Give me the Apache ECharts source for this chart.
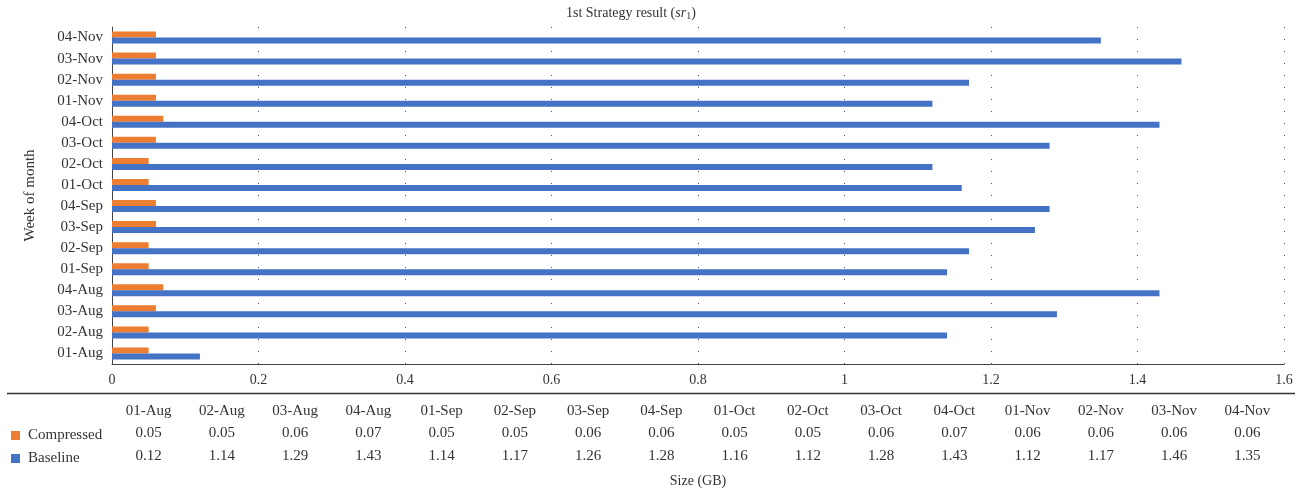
<!DOCTYPE html>
<html>
<head>
<meta charset="utf-8">
<script src="https://cdn.jsdelivr.net/npm/echarts@6/dist/echarts.min.js"></script>
<style>
  html, body { margin: 0; padding: 0; background: #fff; }
  #chart { width: 1309px; height: 495px; }
</style>
</head>
<body>
<div id="chart"></div>
<script>
// weeks, bottom to top
var weeks = ['01-Aug', '02-Aug', '03-Aug', '04-Aug', '01-Sep', '02-Sep', '03-Sep', '04-Sep',
             '01-Oct', '02-Oct', '03-Oct', '04-Oct', '01-Nov', '02-Nov', '03-Nov', '04-Nov'];
var compressed = [0.05, 0.05, 0.06, 0.07, 0.05, 0.05, 0.06, 0.06, 0.05, 0.05, 0.06, 0.07, 0.06, 0.06, 0.06, 0.06];
var baseline = [0.12, 1.14, 1.29, 1.43, 1.14, 1.17, 1.26, 1.28, 1.16, 1.12, 1.28, 1.43, 1.12, 1.17, 1.46, 1.35];

var colors = ['#ED7D31', '#4472C4'];
var serif = 'Liberation Serif';
var txt = '#333';

var chart = echarts.init(document.getElementById('chart'));

var option = {
    animation: false,
    color: colors,
    title: {
        text: '1st Strategy result ({i|sr}{s|1})',
        left: 561,
        top: 0,
        textStyle: {
            fontFamily: serif,
            fontWeight: 'normal',
            fontSize: 14,
            color: txt,
            rich: {
                i: { fontFamily: serif, fontStyle: 'italic', fontSize: 14, color: txt },
                s: { fontFamily: serif, fontSize: 10, color: txt, verticalAlign: 'bottom', padding: [6, 0, 0, 0] }
            }
        }
    },
    legend: {
        orient: 'vertical',
        left: 6,
        top: 423,
        icon: 'rect',
        itemWidth: 9,
        itemHeight: 9,
        itemGap: 8,
        data: ['Compressed', 'Baseline'],
        textStyle: { fontFamily: serif, fontSize: 15, color: txt, padding: [0, 0, 0, 3] }
    },
    grid: [
        { left: 112, right: 25, top: 27, height: 337 },
        { left: 112, right: 25, top: 399, height: 1 }
    ],
    xAxis: [
        {
            type: 'value',
            min: 0,
            max: 1.6,
            interval: 0.2,
            name: 'Size (GB)',
            nameLocation: 'middle',
            nameGap: 110,
            nameTextStyle: { fontFamily: serif, fontSize: 14, color: txt },
            axisLine: { show: true, lineStyle: { color: '#444' } },
            axisTick: { show: false },
            axisLabel: { fontFamily: serif, fontSize: 14, color: txt, margin: 9 },
            splitLine: { show: true, lineStyle: { color: '#555', type: [1, 11] } }
        },
        {
            gridIndex: 1, type: 'category', data: weeks, position: 'bottom', offset: 0,
            axisLine: { show: false }, axisTick: { show: false },
            axisLabel: { fontFamily: serif, fontSize: 15, color: txt, margin: 4, interval: 0 }
        },
        {
            gridIndex: 1, type: 'category', data: weeks, position: 'bottom', offset: 22,
            axisLine: { show: false }, axisTick: { show: false },
            axisLabel: {
                fontFamily: serif, fontSize: 15, color: txt, margin: 4, interval: 0,
                formatter: function (value, index) { return compressed[index].toFixed(2); }
            }
        },
        {
            gridIndex: 1, type: 'category', data: weeks, position: 'bottom', offset: 45,
            axisLine: { show: false }, axisTick: { show: false },
            axisLabel: {
                fontFamily: serif, fontSize: 15, color: txt, margin: 4, interval: 0,
                formatter: function (value, index) { return baseline[index].toFixed(2); }
            }
        }
    ],
    yAxis: [
        {
            type: 'category',
            data: weeks,
            name: 'Week of month',
            nameLocation: 'middle',
            nameGap: 74,
            nameTextStyle: { fontFamily: serif, fontSize: 15, color: txt },
            axisLine: { show: true, lineStyle: { color: '#444' } },
            axisTick: { show: false },
            axisLabel: { fontFamily: serif, fontSize: 15, color: txt, margin: 9, interval: 0 }
        },
        { gridIndex: 1, type: 'value', show: false }
    ],
    graphic: [
        {
            type: 'line',
            shape: { x1: 7, y1: 393.5, x2: 1295, y2: 393.5 },
            style: { stroke: '#333', lineWidth: 1.5 }
        }
    ],
    series: [
        {
            name: 'Compressed',
            type: 'bar',
            barWidth: 6,
            barGap: '0%',
            data: compressed
        },
        {
            name: 'Baseline',
            type: 'bar',
            barWidth: 6,
            barGap: '0%',
            data: baseline
        }
    ]
};
chart.setOption(option);
</script>
</body>
</html>
